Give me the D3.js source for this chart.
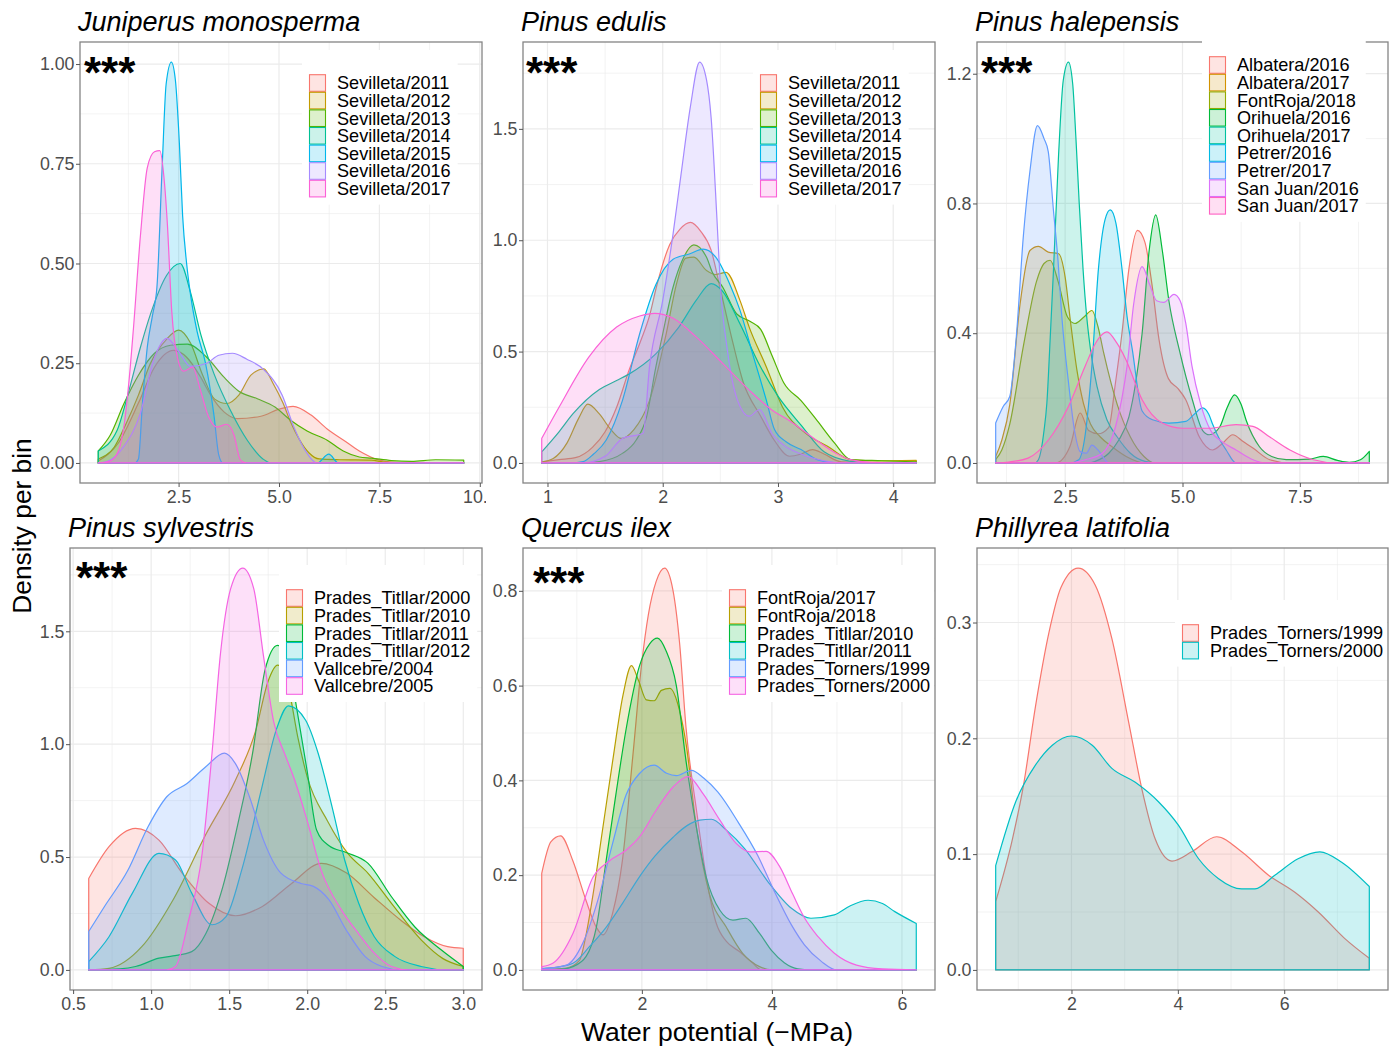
<!DOCTYPE html>
<html>
<head>
<meta charset="utf-8">
<script src="https://cdn.jsdelivr.net/npm/d3@7"></script>
<style>
body { margin: 0; background: #fff; }
svg text { font-family: "Liberation Sans", Arial, sans-serif; }
</style>
</head>
<body>
<script>
// ---- data ----
var juniperusNames = ["Sevilleta/2011","Sevilleta/2012","Sevilleta/2013","Sevilleta/2014","Sevilleta/2015","Sevilleta/2016","Sevilleta/2017"];
var juniperusColors = ["#F8766D","#C49A00","#53B400","#00C094","#00B6EB","#A58AFF","#FB61D7"];
var juniperusCurves = [
  [[0.5,0.005],[1.0,0.05],[1.5,0.15],[1.9,0.24],[2.38,0.282],[2.7,0.265],[3.05,0.215],[3.3,0.17],[3.63,0.128],[3.96,0.111],[4.55,0.117],[5.0,0.135],[5.35,0.142],[5.8,0.12],[6.2,0.085],[6.61,0.057],[7.0,0.03],[7.44,0.009],[7.8,0.002],[8.2,0],[9.6,0]],
  [[0.5,0.01],[0.9,0.04],[1.2,0.1],[1.5,0.17],[1.8,0.25],[2.2,0.31],[2.5,0.333],[2.8,0.3],[3.1,0.22],[3.4,0.16],[3.7,0.149],[4.0,0.17],[4.3,0.22],[4.62,0.236],[4.85,0.2],[5.1,0.15],[5.3,0.1],[5.5,0.06],[5.75,0.025],[6.0,0.01],[6.5,0.008],[7.3,0.007],[7.6,0.002],[8.0,0],[9.6,0]],
  [[0.5,0.03],[0.8,0.07],[1.14,0.149],[1.5,0.22],[1.9,0.275],[2.3,0.295],[2.72,0.298],[3.2,0.265],[3.63,0.215],[4.0,0.18],[4.46,0.161],[4.9,0.14],[5.29,0.107],[5.7,0.08],[6.2,0.057],[6.6,0.03],[7.0,0.015],[7.3,0.012],[7.8,0.006],[8.3,0.004],[8.9,0.008],[9.6,0.007]],
  [[0.5,0.03],[0.97,0.082],[1.22,0.165],[1.55,0.29],[1.8,0.373],[2.2,0.47],[2.54,0.5],[2.79,0.43],[3.05,0.323],[3.38,0.224],[3.79,0.132],[4.21,0.057],[4.6,0.01],[4.8,0],[9.6,0]],
  [[0.5,0],[1.4,0],[1.5,0.01],[1.6,0.15],[1.72,0.29],[1.85,0.37],[1.96,0.44],[2.09,0.74],[2.19,0.95],[2.32,1.005],[2.42,0.96],[2.52,0.8],[2.6,0.62],[2.7,0.5],[2.8,0.42],[2.96,0.33],[3.17,0.25],[3.38,0.12],[3.5,0.02],[3.6,0],[5.95,0],[6.24,0.022],[6.48,0],[9.6,0]],
  [[0.5,0],[0.73,0.004],[1.14,0.042],[1.55,0.125],[1.88,0.258],[2.21,0.3125],[2.5,0.28],[2.8,0.242],[3.2,0.25],[3.5,0.27],[3.84,0.275],[4.2,0.26],[4.62,0.234],[5.08,0.17],[5.37,0.09],[5.7,0.024],[5.94,0],[9.6,0]],
  [[0.5,0],[0.8,0.005],[1.0,0.03],[1.15,0.1],[1.26,0.2],[1.37,0.33],[1.55,0.57],[1.72,0.74],[1.9,0.78],[2.03,0.783],[2.15,0.7],[2.22,0.6],[2.33,0.38],[2.48,0.26],[2.62,0.23],[2.85,0.24],[3.05,0.18],[3.25,0.115],[3.46,0.09],[3.7,0.097],[3.88,0.07],[4.04,0.007],[4.2,0],[9.6,0]]
];

var edulisNames = juniperusNames;
var edulisColors = juniperusColors;
var edulisCurves = [
  [[0.95,0.005],[1.1,0.015],[1.25,0.025],[1.39,0.07],[1.5,0.14],[1.6,0.25],[1.71,0.42],[1.81,0.55],[1.885,0.66],[1.95,0.8],[2.06,0.98],[2.15,1.05],[2.24,1.08],[2.33,1.04],[2.42,0.955],[2.5,0.78],[2.59,0.58],[2.7,0.36],[2.85,0.21],[2.97,0.1],[3.1,0.03],[3.2,0.04],[3.3,0.06],[3.4,0.04],[3.55,0.005],[4.2,0]],
  [[0.95,0.005],[1.05,0.02],[1.17,0.09],[1.27,0.2],[1.35,0.264],[1.45,0.22],[1.55,0.15],[1.64,0.11],[1.75,0.15],[1.885,0.28],[2.03,0.58],[2.12,0.805],[2.2,0.92],[2.27,0.924],[2.38,0.864],[2.46,0.846],[2.55,0.856],[2.67,0.73],[2.75,0.61],[2.9,0.43],[3.04,0.25],[3.24,0.133],[3.43,0.075],[3.63,0.015],[3.8,0.01],[4.2,0.012]],
  [[0.95,0],[1.3,0],[1.45,0.006],[1.65,0.043],[1.77,0.103],[1.86,0.207],[1.94,0.43],[2.0,0.58],[2.09,0.79],[2.17,0.91],[2.27,0.979],[2.38,0.924],[2.43,0.856],[2.52,0.79],[2.64,0.67],[2.76,0.635],[2.85,0.6],[2.95,0.48],[3.05,0.36],[3.2,0.28],[3.34,0.19],[3.49,0.09],[3.63,0.015],[3.9,0.01],[4.2,0.005]],
  [[0.95,0.05],[1.1,0.14],[1.22,0.22],[1.45,0.33],[1.6,0.37],[1.71,0.4],[1.94,0.49],[2.14,0.61],[2.29,0.73],[2.42,0.805],[2.52,0.77],[2.67,0.625],[2.84,0.44],[3.0,0.3],[3.2,0.17],[3.4,0.05],[3.63,0.007],[3.8,0],[4.2,0]],
  [[0.95,0],[1.2,0],[1.31,0.006],[1.4,0.04],[1.51,0.103],[1.65,0.28],[1.8,0.58],[1.94,0.8],[2.09,0.915],[2.23,0.938],[2.35,0.96],[2.46,0.924],[2.58,0.805],[2.67,0.686],[2.78,0.49],[2.9,0.28],[2.97,0.15],[3.07,0.095],[3.2,0.06],[3.34,0.015],[3.5,0],[4.2,0]],
  [[0.95,0],[1.3,0],[1.5,0.03],[1.65,0.11],[1.83,0.133],[1.885,0.43],[2.0,0.73],[2.09,1.03],[2.16,1.3],[2.24,1.6],[2.32,1.8],[2.38,1.72],[2.42,1.55],[2.47,1.1],[2.5,0.8],[2.56,0.51],[2.65,0.28],[2.75,0.21],[2.84,0.24],[2.95,0.13],[3.05,0.08],[3.2,0.04],[3.4,0.01],[3.6,0],[4.2,0]],
  [[0.95,0.11],[1.1,0.25],[1.36,0.476],[1.6,0.61],[1.8,0.66],[1.93,0.672],[2.09,0.65],[2.29,0.566],[2.52,0.447],[2.75,0.327],[2.95,0.237],[3.1,0.19],[3.34,0.1],[3.5,0.045],[3.63,0.015],[3.8,0.003],[4.2,0]]
];

var halepensisNames = ["Albatera/2016","Albatera/2017","FontRoja/2018","Orihuela/2016","Orihuela/2017","Petrer/2016","Petrer/2017","San Juan/2016","San Juan/2017"];
var halepensisColors = ["#F8766D","#D39200","#93AA00","#00BA38","#00C19F","#00B9E3","#619CFF","#DB72FB","#FF61C3"];
var halepensisCurves = [
  [[1.02,0],[2.3,0],[2.6,0.05],[2.82,0.154],[3.0,0.1],[3.2,0.09],[3.43,0.11],[3.57,0.245],[3.71,0.4],[3.86,0.6],[4.04,0.717],[4.2,0.68],[4.35,0.55],[4.5,0.38],[4.7,0.26],[4.9,0.23],[5.07,0.195],[5.36,0.08],[5.64,0.04],[5.85,0.06],[6.07,0.087],[6.3,0.065],[6.5,0.046],[6.86,0.01],[7.3,0],[8.98,0]],
  [[1.02,0.02],[1.15,0.07],[1.32,0.18],[1.54,0.49],[1.75,0.655],[1.93,0.668],[2.14,0.65],[2.36,0.645],[2.5,0.573],[2.61,0.44],[2.75,0.287],[2.89,0.184],[3.04,0.12],[3.25,0.08],[3.5,0.05],[3.8,0.02],[4.2,0],[8.98,0]],
  [[1.02,0.01],[1.15,0.04],[1.32,0.12],[1.61,0.36],[1.89,0.56],[2.05,0.615],[2.18,0.625],[2.35,0.56],[2.55,0.45],[2.71,0.43],[2.9,0.45],[3.07,0.47],[3.2,0.42],[3.32,0.34],[3.61,0.18],[3.89,0.08],[4.18,0.02],[4.4,0],[8.98,0]],
  [[1.02,0],[3.0,0],[3.14,0.005],[3.43,0.03],[3.64,0.07],[3.86,0.143],[4.0,0.245],[4.14,0.4],[4.29,0.655],[4.43,0.765],[4.57,0.655],[4.71,0.5],[4.93,0.35],[5.21,0.195],[5.43,0.1],[5.57,0.087],[5.79,0.11],[5.95,0.17],[6.11,0.21],[6.25,0.18],[6.36,0.13],[6.64,0.05],[6.9,0.02],[7.21,0.01],[7.7,0.012],[8.0,0.02],[8.3,0.008],[8.55,0.002],[8.79,0.01],[8.98,0.036]],
  [[1.02,0],[1.85,0],[1.93,0.01],[2.05,0.1],[2.11,0.184],[2.18,0.38],[2.25,0.59],[2.36,0.95],[2.46,1.18],[2.57,1.236],[2.66,1.17],[2.73,1.0],[2.8,0.8],[2.88,0.6],[2.96,0.45],[3.04,0.35],[3.18,0.235],[3.39,0.133],[3.61,0.08],[3.89,0.03],[4.2,0.005],[4.5,0],[8.98,0]],
  [[1.02,0],[2.6,0],[2.79,0.01],[2.93,0.09],[3.07,0.3],[3.21,0.6],[3.35,0.75],[3.46,0.78],[3.58,0.74],[3.71,0.6],[3.82,0.45],[3.93,0.35],[4.14,0.16],[4.36,0.133],[4.71,0.123],[5.07,0.128],[5.25,0.15],[5.43,0.17],[5.56,0.15],[5.64,0.12],[5.8,0.07],[5.93,0.04],[6.14,0],[8.98,0]],
  [[1.02,0.123],[1.18,0.174],[1.32,0.205],[1.46,0.39],[1.61,0.7],[1.75,0.9],[1.91,1.04],[2.05,1.0],[2.14,0.96],[2.25,0.78],[2.35,0.62],[2.43,0.45],[2.57,0.25],[2.7,0.1],[2.82,0.035],[2.95,0.03],[3.07,0.055],[3.2,0.04],[3.43,0],[8.98,0]],
  [[1.02,0],[2.5,0],[2.93,0.01],[3.29,0.03],[3.57,0.11],[3.71,0.2],[3.82,0.3],[3.96,0.49],[4.14,0.605],[4.3,0.55],[4.45,0.5],[4.6,0.495],[4.82,0.52],[4.95,0.5],[5.07,0.43],[5.2,0.3],[5.39,0.18],[5.6,0.1],[5.85,0.065],[6.14,0.04],[6.5,0.01],[6.8,0],[8.98,0]],
  [[1.02,0],[1.3,0.003],[1.71,0.015],[2.14,0.07],[2.57,0.174],[2.93,0.3],[3.15,0.37],[3.39,0.404],[3.6,0.37],[3.79,0.32],[4.14,0.195],[4.57,0.123],[5.0,0.107],[5.57,0.107],[6.14,0.118],[6.5,0.113],[6.86,0.08],[7.29,0.04],[7.79,0.01],[8.29,0],[8.98,0]]
];

var sylvestrisNames = ["Prades_Titllar/2000","Prades_Titllar/2010","Prades_Titllar/2011","Prades_Titllar/2012","Vallcebre/2004","Vallcebre/2005"];
var sixColors = ["#F8766D","#B79F00","#00BA38","#00BFC4","#619CFF","#F564E3"];
var sylvestrisCurves = [
  [[0.6,0.405],[0.73,0.546],[0.9,0.627],[1.05,0.575],[1.2,0.428],[1.37,0.295],[1.54,0.24],[1.71,0.28],[1.9,0.383],[2.09,0.472],[2.25,0.43],[2.43,0.32],[2.6,0.22],[2.75,0.147],[2.9,0.103],[3.0,0.096]],
  [[0.6,0],[0.73,0.007],[0.94,0.103],[1.14,0.31],[1.35,0.6],[1.54,0.84],[1.67,1.06],[1.75,1.28],[1.81,1.35],[1.88,1.25],[1.94,1.03],[2.0,0.855],[2.13,0.66],[2.26,0.516],[2.39,0.428],[2.54,0.295],[2.73,0.133],[2.87,0.05],[3.0,0.015]],
  [[0.6,0],[0.8,0.005],[0.9,0.015],[1.05,0.052],[1.14,0.062],[1.26,0.081],[1.35,0.16],[1.46,0.37],[1.56,0.66],[1.65,0.96],[1.73,1.33],[1.81,1.438],[1.87,1.4],[1.93,1.17],[2.0,0.88],[2.06,0.62],[2.14,0.55],[2.25,0.52],[2.39,0.472],[2.54,0.324],[2.69,0.19],[2.86,0.088],[3.0,0.015]],
  [[0.6,0.037],[0.73,0.147],[0.88,0.34],[1.05,0.516],[1.156,0.487],[1.26,0.34],[1.39,0.2],[1.48,0.236],[1.58,0.442],[1.71,0.81],[1.8,1.06],[1.88,1.17],[1.99,1.106],[2.07,0.96],[2.16,0.72],[2.24,0.487],[2.33,0.295],[2.43,0.147],[2.56,0.06],[2.73,0.015],[2.9,0],[3.0,0]],
  [[0.6,0.17],[0.7,0.28],[0.85,0.44],[0.98,0.634],[1.1,0.767],[1.23,0.826],[1.35,0.9],[1.47,0.96],[1.54,0.914],[1.63,0.767],[1.72,0.575],[1.83,0.43],[1.96,0.383],[2.04,0.37],[2.14,0.31],[2.25,0.177],[2.37,0.06],[2.48,0.015],[2.6,0],[3.0,0]],
  [[0.6,0],[1.1,0],[1.156,0.015],[1.24,0.22],[1.327,0.516],[1.39,0.96],[1.444,1.4],[1.51,1.69],[1.587,1.78],[1.657,1.69],[1.72,1.39],[1.785,1.1],[1.86,0.95],[1.92,0.84],[2.0,0.66],[2.09,0.44],[2.22,0.265],[2.33,0.16],[2.43,0.074],[2.54,0.015],[2.65,0],[3.0,0]]
];

var ilexNames = ["FontRoja/2017","FontRoja/2018","Prades_Titllar/2010","Prades_Titllar/2011","Prades_Torners/1999","Prades_Torners/2000"];
var ilexCurves = [
  [[0.46,0.2035],[0.6,0.27],[0.75,0.283],[0.94,0.23],[1.14,0.147],[1.3,0.09],[1.4,0.074],[1.55,0.12],[1.7,0.23],[1.86,0.45],[2.0,0.65],[2.1,0.75],[2.22,0.82],[2.35,0.848],[2.48,0.8],[2.58,0.69],[2.68,0.51],[2.84,0.337],[2.99,0.196],[3.14,0.1],[3.3,0.06],[3.5,0.039],[3.7,0.015],[3.84,0],[6.22,0]],
  [[0.46,0],[0.84,0.004],[1.04,0.02],[1.15,0.08],[1.25,0.16],[1.4,0.3],[1.55,0.44],[1.71,0.58],[1.84,0.642],[1.95,0.61],[2.07,0.57],[2.19,0.568],[2.3,0.59],[2.43,0.594],[2.58,0.547],[2.68,0.477],[2.84,0.3],[3.04,0.16],[3.3,0.09],[3.55,0.035],[3.81,0.007],[4.0,0],[6.22,0]],
  [[0.46,0],[0.8,0.002],[0.94,0.007],[1.14,0.028],[1.3,0.09],[1.45,0.23],[1.6,0.37],[1.76,0.51],[1.96,0.64],[2.12,0.688],[2.24,0.7],[2.37,0.674],[2.53,0.6],[2.68,0.44],[2.84,0.3],[2.99,0.196],[3.2,0.126],[3.4,0.105],[3.6,0.109],[3.81,0.077],[4.0,0.04],[4.19,0.015],[4.4,0.002],[4.6,0],[6.22,0]],
  [[0.46,0.003],[0.7,0.006],[0.94,0.014],[1.2,0.05],[1.45,0.09],[1.7,0.14],[1.96,0.196],[2.2,0.24],[2.48,0.28],[2.7,0.305],[2.89,0.316],[3.07,0.318],[3.3,0.295],[3.58,0.256],[3.94,0.186],[4.3,0.13],[4.6,0.109],[4.96,0.116],[5.2,0.135],[5.48,0.147],[5.7,0.14],[5.89,0.123],[6.22,0.098]],
  [[0.46,0.002],[0.84,0.01],[1.09,0.056],[1.35,0.16],[1.55,0.267],[1.76,0.37],[1.96,0.414],[2.19,0.432],[2.38,0.415],[2.53,0.41],[2.76,0.421],[2.95,0.405],[3.17,0.375],[3.48,0.312],[3.78,0.242],[4.04,0.165],[4.3,0.095],[4.5,0.053],[4.76,0.018],[5.0,0],[6.22,0]],
  [[0.46,0.007],[0.63,0.014],[0.94,0.077],[1.25,0.196],[1.5,0.23],[1.76,0.253],[1.96,0.28],[2.22,0.337],[2.48,0.386],[2.71,0.408],[2.94,0.372],[3.2,0.316],[3.45,0.267],[3.66,0.249],[3.91,0.25],[4.12,0.218],[4.32,0.16],[4.5,0.11],[4.71,0.07],[4.96,0.035],[5.3,0.01],[5.7,0.002],[6.22,0]]
];

var latifoliaNames = ["Prades_Torners/1999","Prades_Torners/2000"];
var twoColors = ["#F8766D","#00BFC4"];
var latifoliaCurves = [
  [[0.575,0.059],[0.89,0.113],[1.1,0.16],[1.325,0.228],[1.575,0.291],[1.8,0.33],[2.125,0.347],[2.45,0.332],[2.76,0.286],[3.075,0.214],[3.325,0.156],[3.575,0.113],[3.89,0.094],[4.26,0.102],[4.73,0.115],[5.2,0.102],[5.7,0.082],[6.2,0.067],[6.64,0.05],[7.14,0.027],[7.6,0.01]],
  [[0.575,0.09],[0.95,0.145],[1.325,0.177],[1.64,0.194],[2.0,0.202],[2.39,0.194],[2.76,0.174],[3.2,0.162],[3.64,0.145],[4.01,0.125],[4.39,0.096],[4.76,0.079],[5.2,0.07],[5.45,0.07],[5.83,0.082],[6.26,0.096],[6.67,0.102],[7.08,0.093],[7.6,0.072]]
];

// tick values and labels
var juniperusXTicks = [2.5, 5, 7.5, 10], juniperusXLabels = ["2.5","5.0","7.5","10.0"];
var juniperusYTicks = [0, 0.25, 0.5, 0.75, 1], juniperusYLabels = ["0.00","0.25","0.50","0.75","1.00"];
var edulisXTicks = [1, 2, 3, 4], edulisXLabels = ["1","2","3","4"];
var edulisYTicks = [0, 0.5, 1, 1.5], edulisYLabels = ["0.0","0.5","1.0","1.5"];
var halepensisXTicks = [2.5, 5, 7.5], halepensisXLabels = ["2.5","5.0","7.5"];
var halepensisYTicks = [0, 0.4, 0.8, 1.2], halepensisYLabels = ["0.0","0.4","0.8","1.2"];
var sylvestrisXTicks = [0.5, 1, 1.5, 2, 2.5, 3], sylvestrisXLabels = ["0.5","1.0","1.5","2.0","2.5","3.0"];
var sylvestrisYTicks = [0, 0.5, 1, 1.5], sylvestrisYLabels = ["0.0","0.5","1.0","1.5"];
var ilexXTicks = [2, 4, 6], ilexXLabels = ["2","4","6"];
var ilexYTicks = [0, 0.2, 0.4, 0.6, 0.8], ilexYLabels = ["0.0","0.2","0.4","0.6","0.8"];
var latifoliaXTicks = [2, 4, 6], latifoliaXLabels = ["2","4","6"];
var latifoliaYTicks = [0, 0.1, 0.2, 0.3], latifoliaYLabels = ["0.0","0.1","0.2","0.3"];

// ---- layout ----
var panels = [
  {title:"Juniperus monosperma", names:juniperusNames, colors:juniperusColors, curves:juniperusCurves,
   xt:juniperusXTicks, xl:juniperusXLabels, yt:juniperusYTicks, yl:juniperusYLabels,
   left:80, right:482, top:42, bottom:483, cell:[0,0,486,510], star:[84,63], legend:[309,83]},
  {title:"Pinus edulis", names:edulisNames, colors:edulisColors, curves:edulisCurves,
   xt:edulisXTicks, xl:edulisXLabels, yt:edulisYTicks, yl:edulisYLabels,
   left:523, right:935, top:42, bottom:483, cell:[486,0,451,510], star:[526,63], legend:[760,83]},
  {title:"Pinus halepensis", names:halepensisNames, colors:halepensisColors, curves:halepensisCurves,
   xt:halepensisXTicks, xl:halepensisXLabels, yt:halepensisYTicks, yl:halepensisYLabels,
   left:977, right:1388, top:42, bottom:483, cell:[937,0,462,510], star:[981,63], legend:[1209,65]},
  {title:"Pinus sylvestris", names:sylvestrisNames, colors:sixColors, curves:sylvestrisCurves,
   xt:sylvestrisXTicks, xl:sylvestrisXLabels, yt:sylvestrisYTicks, yl:sylvestrisYLabels,
   left:70, right:482, top:548, bottom:990, cell:[0,510,486,536], star:[76,568], legend:[286,598]},
  {title:"Quercus ilex", names:ilexNames, colors:sixColors, curves:ilexCurves,
   xt:ilexXTicks, xl:ilexXLabels, yt:ilexYTicks, yl:ilexYLabels,
   left:523, right:935, top:548, bottom:990, cell:[486,510,451,536], star:[533,573], legend:[729,598]},
  {title:"Phillyrea latifolia", names:latifoliaNames, colors:twoColors, curves:latifoliaCurves,
   xt:latifoliaXTicks, xl:latifoliaXLabels, yt:latifoliaYTicks, yl:latifoliaYLabels,
   left:977, right:1388, top:548, bottom:990, cell:[937,510,462,536], star:null, legend:[1182,633]}
];

var svg = d3.select("body").append("svg").attr("width", 1399).attr("height", 1046);
var defs = svg.append("defs");

function minorOf(ticks, domain) {
  var step = ticks[1] - ticks[0], out = [];
  for (var i = -1; i < ticks.length; i++) {
    var m = ticks[0] + step * (i + 0.5);
    if (m > domain[0] && m < domain[1]) out.push(m);
  }
  return out;
}

panels.forEach(function(p, k) {
  defs.append("clipPath").attr("id", "cell" + k).append("rect")
    .attr("x", p.cell[0]).attr("y", p.cell[1]).attr("width", p.cell[2]).attr("height", p.cell[3]);
  var g = svg.append("g").attr("clip-path", "url(#cell" + k + ")");

  var all = d3.merge(p.curves);
  var xe = d3.extent(all, function(d){ return d[0]; });
  var ymax = d3.max(all, function(d){ return d[1]; });
  var xpad = (xe[1] - xe[0]) * 0.05;
  var x = d3.scaleLinear().domain([xe[0] - xpad, xe[1] + xpad]).range([p.left, p.right]);
  var y = d3.scaleLinear().domain([-ymax * 0.05, ymax * 1.05]).range([p.bottom, p.top]);

  // grid
  var grid = g.append("g").attr("stroke", "#ebebeb");
  minorOf(p.xt, x.domain()).forEach(function(v){
    grid.append("line").attr("x1", x(v)).attr("x2", x(v)).attr("y1", p.top).attr("y2", p.bottom).attr("stroke-width", 0.6);
  });
  minorOf(p.yt, y.domain()).forEach(function(v){
    grid.append("line").attr("y1", y(v)).attr("y2", y(v)).attr("x1", p.left).attr("x2", p.right).attr("stroke-width", 0.6);
  });
  p.xt.forEach(function(v){
    grid.append("line").attr("x1", x(v)).attr("x2", x(v)).attr("y1", p.top).attr("y2", p.bottom).attr("stroke-width", 1.2);
  });
  p.yt.forEach(function(v){
    grid.append("line").attr("y1", y(v)).attr("y2", y(v)).attr("x1", p.left).attr("x2", p.right).attr("stroke-width", 1.2);
  });

  // densities
  var area = d3.area()
    .x(function(d){ return x(d[0]); })
    .y0(y(0))
    .y1(function(d){ return y(d[1]); })
    .curve(d3.curveMonotoneX);
  p.curves.forEach(function(c, i){
    g.append("path").attr("d", area(c))
      .attr("fill", p.colors[i]).attr("fill-opacity", 0.2)
      .attr("stroke", p.colors[i]).attr("stroke-width", 1.2)
      .attr("stroke-linejoin", "round");
  });

  if (p.star) {
    g.append("text").attr("x", p.star[0]).attr("y", p.star[1] + 25)
      .attr("font-size", 44).attr("font-weight", "bold").attr("fill", "#000")
      .text("***");
  }

  // border
  g.append("rect").attr("x", p.left).attr("y", p.top)
    .attr("width", p.right - p.left).attr("height", p.bottom - p.top)
    .attr("fill", "none").attr("stroke", "#848484").attr("stroke-width", 1.3);

  // axes
  var xa = g.append("g").attr("transform", "translate(0," + p.bottom + ")")
    .call(d3.axisBottom(x).tickValues(p.xt).tickFormat(function(d, i){ return p.xl[i]; }).tickSize(4).tickPadding(3.5));
  var ya = g.append("g").attr("transform", "translate(" + p.left + ",0)")
    .call(d3.axisLeft(y).tickValues(p.yt).tickFormat(function(d, i){ return p.yl[i]; }).tickSize(4).tickPadding(1.5));
  [xa, ya].forEach(function(a){
    a.select(".domain").remove();
    a.selectAll(".tick line").attr("stroke", "#555");
    a.selectAll(".tick text").attr("fill", "#4d4d4d").attr("font-size", 17.8)
      .style("font-family", "'Liberation Sans', Arial, sans-serif");
  });

  // legend
  var lg = g.append("g");
  var box = lg.append("rect").attr("fill", "#fff");
  var rowH = 17.6, tw = 0;
  p.names.forEach(function(n, i){
    var cy = p.legend[1] + i * rowH;
    lg.append("rect").attr("x", p.legend[0] + 0.5).attr("y", cy - 8.3).attr("width", 16).attr("height", 16.6)
      .attr("fill", p.colors[i]).attr("fill-opacity", 0.2)
      .attr("stroke", p.colors[i]).attr("stroke-width", 1.1);
    var t = lg.append("text").attr("x", p.legend[0] + 28).attr("y", cy + 6.3)
      .attr("font-size", 18.1).attr("fill", "#000").text(n);
    tw = Math.max(tw, t.node().getComputedTextLength());
  });
  var boxRight = Math.min(p.legend[0] + 35 + tw, p.right - 1);
  box.attr("x", p.legend[0] - 7).attr("y", p.legend[1] - 33)
    .attr("width", boxRight - (p.legend[0] - 7)).attr("height", (p.names.length - 1) * rowH + 49);

  // title
  g.append("text").attr("x", p.left - 2).attr("y", p.top - 11.5)
    .attr("font-size", 27).attr("font-style", "italic").attr("fill", "#000").text(p.title);
});

svg.append("text").attr("transform", "translate(31,526) rotate(-90)")
  .attr("text-anchor", "middle").attr("font-size", 26.3).attr("fill", "#000").text("Density per bin");
svg.append("text").attr("x", 717).attr("y", 1041)
  .attr("text-anchor", "middle").attr("font-size", 26.5).attr("fill", "#000").text("Water potential (\u2212MPa)");
</script>
</body>
</html>
